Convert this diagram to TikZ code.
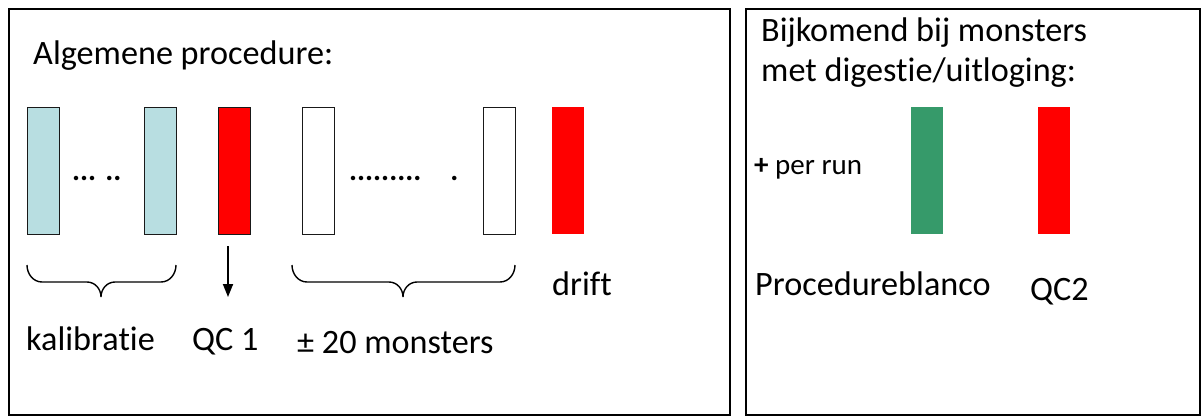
\documentclass[tikz,border=0pt]{standalone}
\usepackage{fontspec}
\setmainfont{Carlito}[Ligatures=NoCommon]
\usetikzlibrary{arrows.meta}
\definecolor{lightcyan}{RGB}{184,222,225}
\definecolor{qcred}{RGB}{255,0,0}
\definecolor{blankgreen}{RGB}{54,154,106}
\tikzset{
  frame/.style={draw=black, line width=1.5pt},
  vial/.style={inner sep=0pt, minimum width=32pt, minimum height=127pt, anchor=north west},
  cyanvial/.style={vial, fill=lightcyan, draw=black!90, line width=1.4pt},
  redvial/.style={vial, fill=qcred, draw=black!90, line width=1.4pt},
  whitevial/.style={vial, fill=white, draw=black!90, line width=1.4pt},
  plainred/.style={vial, fill=qcred},
  plaingreen/.style={vial, fill=blankgreen},
  lbl/.style={inner sep=0pt, anchor=base west, font=\fontsize{34.2}{41}\selectfont},
  dotstyle/.style={inner sep=0pt, anchor=base west, font=\fontsize{30}{36}\selectfont\bfseries},
  brace/.style={draw=black, line width=1.4pt},
}
\begin{document}
\begin{tikzpicture}[x=1pt,y=-1pt]
\useasboundingbox (0,0) rectangle (1203,417);
% frames
\draw[frame] (9,9) rectangle (730,415);
\draw[frame] (746,9) rectangle (1200,415);
% left panel
\node[lbl] (title) at (33,65) {Algemene procedure:};
\node[cyanvial] (c1) at (27,107) {};
\node[cyanvial] (c2) at (144,107) {};
\node[redvial] (q1) at (218,107) {};
\node[whitevial] (w1) at (302,107) {};
\node[whitevial] (w2) at (483,107) {};
\node[plainred] (dr) at (552,107) {};
\node[dotstyle] (d1) at (72,181) {... ..};
\node[dotstyle] (d2) at (349,181) {.........\hspace{29pt}.};
% braces
\draw[brace] (27,265) to[out=-90,in=180] (42,282) -- (87,282) to[out=0,in=90] (101,297)
  to[out=90,in=180] (115,282) -- (161,282) to[out=0,in=-90] (176,265);
\draw[brace] (292,265) to[out=-90,in=180] (307,282) -- (389,282) to[out=0,in=90] (403,297)
  to[out=90,in=180] (417,282) -- (500,282) to[out=0,in=-90] (515,265);
% arrow
\coordinate (qtip) at (228,297);
\draw[line width=1.8pt, -{Triangle[length=13pt,width=10pt]}] ([yshift=-11pt]q1.south -| qtip) -- (qtip);
\node[lbl] (kal) at (26,350) {kalibratie};
\node[lbl] (qc1) at (192,350) {QC 1};
\node[lbl] (mon) at (297,353) {± 20 monsters};
\node[lbl] (drift) at (552,295) {drift};
% right panel
\node[lbl] (bij1) at (761,42) {Bijkomend bij monsters};
\node[lbl] (bij2) at (761,82) {met digestie/uitloging:};
\node[inner sep=0pt, anchor=base west, font=\fontsize{29}{35}\selectfont] (run) at (754,175) {\textbf{+} per run};
\node[plaingreen] (pb) at (911,107) {};
\node[plainred] (q2) at (1038,107) {};
\node[lbl] (pbl) at (755,295) {Procedureblanco};
\node[lbl] (qc2) at (1030,300) {QC2};
\end{tikzpicture}
\end{document}
